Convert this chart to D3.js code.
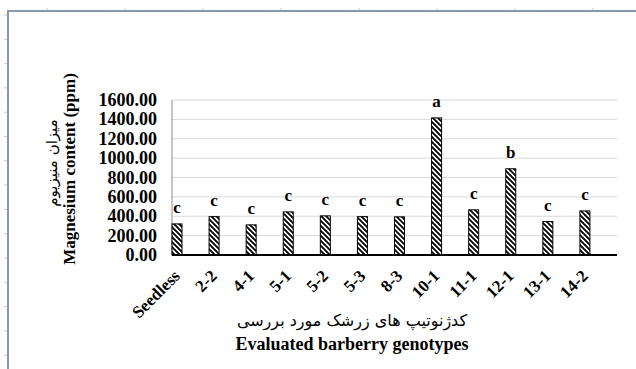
<!DOCTYPE html>
<html>
<head>
<meta charset="utf-8">
<script src="https://cdn.jsdelivr.net/npm/d3@7"></script>
<style>
  body { margin: 0; background: #fff; }
  svg { display: block; }
</style>
</head>
<body>
<svg width="636" height="369"></svg>
<script>
const genotypes = ["Seedless", "2-2", "4-1", "5-1", "5-2", "5-3", "8-3", "10-1", "11-1", "12-1", "13-1", "14-2"];
const magnesium = [321, 396, 311, 445, 404, 396, 394, 1415, 466, 890, 345, 455];
const groups = ["c", "c", "c", "c", "c", "c", "c", "a", "c", "b", "c", "c"];
const yTicks = [0, 200, 400, 600, 800, 1000, 1200, 1400, 1600];

const serif = "'Liberation Serif', 'Times New Roman', 'DejaVu Serif', serif";
const persian = "'DejaVu Sans', 'Noto Sans', sans-serif";

const svg = d3.select("svg");
const width = +svg.attr("width");
const height = +svg.attr("height");

const margin = { top: 100, right: 19, bottom: 114, left: 172 };
const plotLeft = margin.left;
const plotRight = width - margin.right;
const plotTop = margin.top;
const plotBottom = height - margin.bottom;

// page frame (document edge with ruler ticks)
const frame = svg.append('g');
d3.range(15, height, 24.3).forEach(y => {
    frame.append('line').attr('x1', 4).attr('x2', 8).attr('y1', y).attr('y2', y)
        .attr('stroke', '#c8ccd2').attr('stroke-width', 1);
});
d3.range(47, width, 78).forEach(x => {
    frame.append('line').attr('x1', x).attr('x2', x).attr('y1', 8).attr('y2', 11)
        .attr('stroke', '#c8ccd2').attr('stroke-width', 1);
});
frame.append('path')
    .attr('d', `M8,${height} L8,11 L${width},11`)
    .attr('fill', 'none').attr('stroke', '#8799b0').attr('stroke-width', 2);

// hatch pattern
const defs = svg.append('defs');
const pat = defs.append('pattern')
    .attr('id', 'hatch').attr('patternUnits', 'userSpaceOnUse')
    .attr('width', 5).attr('height', 5);
pat.append('rect').attr('width', 5).attr('height', 5).attr('fill', '#fff');
pat.append('path')
    .attr('d', 'M-1,-1 L6,6 M-1,4 L1,6 M4,-1 L6,1')
    .attr('stroke', '#000').attr('stroke-width', 1.8);

const xScale = d3.scaleBand()
    .domain(genotypes)
    .range([plotLeft, plotRight])
    .padding(0);

const yScale = d3.scaleLinear()
    .domain([0, 1600])
    .range([plotBottom, plotTop]);

// gridlines
svg.append('g').selectAll('line').data(yTicks.slice(1))
    .enter().append('line')
    .attr('x1', plotLeft).attr('x2', plotRight)
    .attr('y1', d => yScale(d)).attr('y2', d => yScale(d))
    .attr('stroke', '#d9d9d9').attr('stroke-width', 1);

// y axis line
svg.append('line')
    .attr('x1', plotLeft).attr('x2', plotLeft)
    .attr('y1', plotTop).attr('y2', plotBottom)
    .attr('stroke', '#8c8c8c').attr('stroke-width', 1);

// y tick labels
const fmt = d3.format('.2f');
svg.selectAll('text.yl').data(yTicks)
    .enter().append('text')
    .attr('class', 'yl')
    .attr('x', plotLeft - 15)
    .attr('y', d => yScale(d))
    .attr('dy', '0.34em')
    .attr('text-anchor', 'end')
    .style('font-family', serif).style('font-weight', 'bold')
    .style('font-size', '18px')
    .text(fmt);

const barW = 10;
const barX = d => xScale(d);

svg.selectAll('rect.bar').data(genotypes)
    .enter().append('rect')
    .attr('class', 'bar')
    .attr('x', barX)
    .attr('y', (d, i) => yScale(magnesium[i]))
    .attr('width', barW)
    .attr('height', (d, i) => plotBottom - yScale(magnesium[i]))
    .attr('fill', 'url(#hatch)')
    .attr('stroke', '#000').attr('stroke-width', 1);

// significance letters
svg.selectAll('text.grp').data(genotypes)
    .enter().append('text')
    .attr('class', 'grp')
    .attr('x', d => barX(d) + barW / 2)
    .attr('y', (d, i) => yScale(magnesium[i]) - 11)
    .attr('text-anchor', 'middle')
    .style('font-family', serif).style('font-weight', 'bold')
    .style('font-size', '17px')
    .text((d, i) => groups[i]);

// x axis baseline
svg.append('line')
    .attr('x1', plotLeft).attr('x2', plotRight)
    .attr('y1', plotBottom).attr('y2', plotBottom)
    .attr('stroke', '#000').attr('stroke-width', 2);

// x tick labels
svg.selectAll('text.xl').data(genotypes)
    .enter().append('text')
    .attr('class', 'xl')
    .attr('transform', d => `translate(${barX(d) + barW / 2 + 4}, ${plotBottom + 22}) rotate(-45)`)
    .attr('text-anchor', 'end')
    .style('font-family', serif).style('font-weight', 'bold')
    .style('font-size', '17px')
    .text(d => d);

// axis titles
svg.append('text')
    .attr('x', 352).attr('y', 326)
    .attr('text-anchor', 'middle')
    .style('font-family', persian)
    .style('font-size', '16px')
    .text('کدژنوتیپ های زرشک مورد بررسی');

svg.append('text')
    .attr('x', 352).attr('y', 350)
    .attr('text-anchor', 'middle')
    .style('font-family', serif).style('font-weight', 'bold')
    .style('font-size', '18px')
    .text('Evaluated barberry genotypes');

svg.append('text')
    .attr('transform', 'translate(57, 163) rotate(-90)')
    .attr('text-anchor', 'middle')
    .style('font-family', persian)
    .style('font-size', '15px')
    .text('میزان منیزیوم');

svg.append('text')
    .attr('transform', 'translate(75, 169) rotate(-90)')
    .attr('text-anchor', 'middle')
    .style('font-family', serif).style('font-weight', 'bold')
    .style('font-size', '17px')
    .text('Magnesium content (ppm)');
</script>
</body>
</html>
